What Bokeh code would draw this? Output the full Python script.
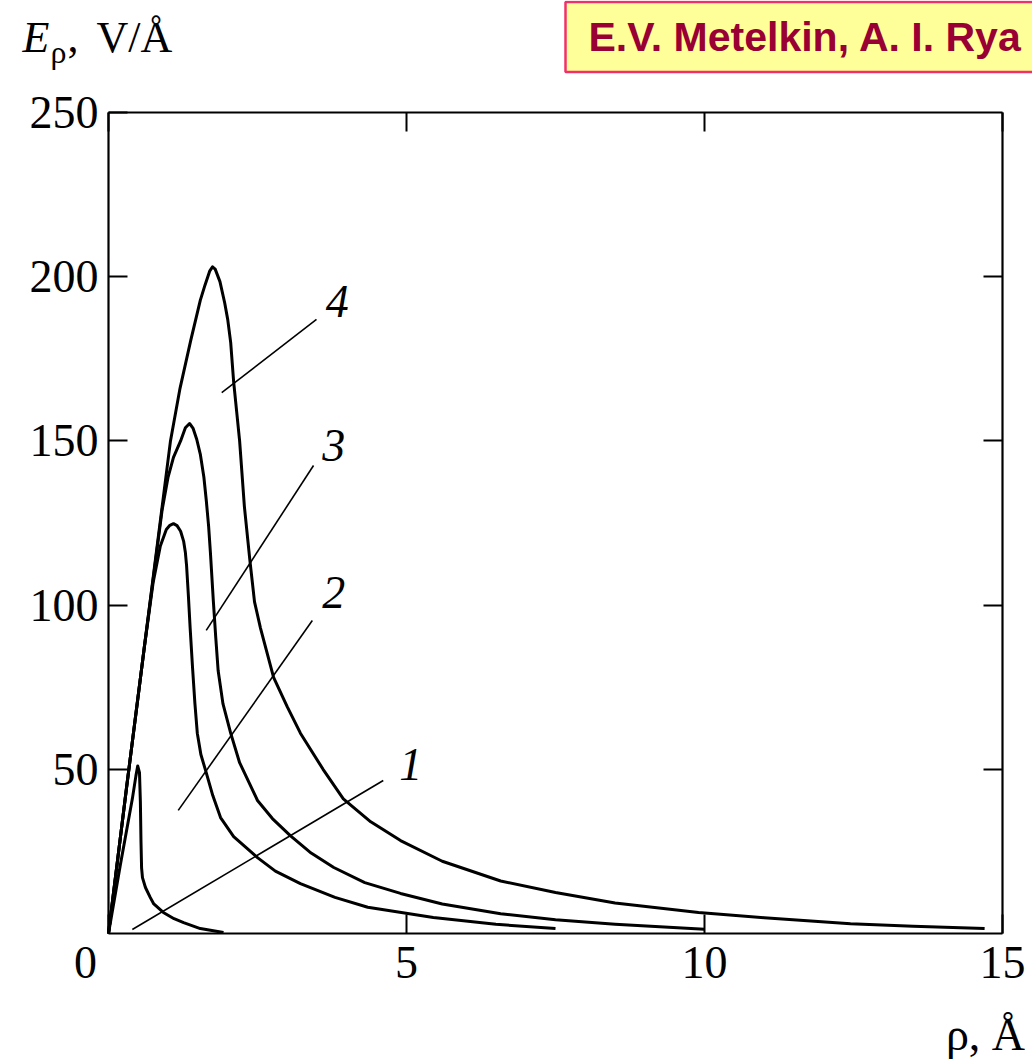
from bokeh.plotting import figure
from bokeh.models import Range1d, LinearAxis, FixedTicker, Label
from bokeh.embed import file_html
from bokeh.resources import INLINE
from bokeh.core.properties import value

# ---- data ----
rho_1 = [0, 0.2, 0.4, 0.46, 0.49, 0.52, 0.535, 0.545, 0.555, 0.57, 0.62, 0.7, 0.76, 0.92, 1.1, 1.26, 1.54, 1.93]
E_1 = [0, 21, 41, 48, 51, 49, 40, 28, 20, 17, 14, 11, 9, 6.4, 4.5, 3.3, 1.5, 0.3]

rho_2 = [0, 0.3, 0.6, 0.75, 0.87, 0.97, 1.03, 1.09, 1.15, 1.21, 1.26, 1.29, 1.31, 1.34, 1.37, 1.41, 1.45,
         1.49, 1.55, 1.63, 1.75, 1.88, 2.1, 2.5, 2.8, 3.22, 3.8, 4.35, 5.45, 6.5, 7.5]
E_2 = [0, 44, 87, 107, 118, 123, 124.3, 124.8, 124.2, 122.5, 119.5, 116, 112, 103, 93, 81, 70,
       61, 54.5, 49.6, 42, 35.3, 29.5, 23.1, 19, 15.2, 11, 8, 4.9, 2.8, 1.5]

rho_3 = [0, 0.3, 0.6, 0.9, 1.0, 1.09, 1.21, 1.29, 1.36, 1.42, 1.48, 1.54, 1.6, 1.64, 1.68, 1.71, 1.76, 1.80,
         1.84, 1.92, 2.05, 2.2, 2.5, 2.75, 3.05, 3.4, 3.78, 4.3, 4.9, 5.6, 6.58, 7.5, 8.5, 10.0]
E_3 = [0, 44, 87, 129, 139, 145, 150, 154, 155.3, 153.8, 150.5, 146, 139, 132, 124, 116, 101, 90,
       80, 70, 61, 52, 40.5, 35, 29.8, 24.5, 20.1, 15.5, 12.2, 9, 6, 4.2, 2.8, 1.3]

rho_4 = [0, 0.3, 0.6, 0.9, 1.04, 1.2, 1.38, 1.54, 1.62, 1.7, 1.745, 1.79, 1.87, 1.95, 2.0, 2.05, 2.10,
         2.15, 2.20, 2.28, 2.37, 2.45, 2.55, 2.77, 3.0, 3.22, 3.6, 3.94, 4.4, 4.9, 5.6, 6.58, 7.5, 8.5,
         9.9, 11.0, 12.45, 13.5, 14.7]
E_4 = [0, 44, 87, 130, 150, 166, 180.6, 192.8, 197.5, 201.8, 203, 202.3, 198.5, 192, 187, 180, 168,
       159, 150, 130, 114, 101, 93, 78, 69, 61, 50, 41, 34, 28.3, 22, 16, 12.5, 9.3,
       6.4, 4.8, 3, 2.2, 1.5]

curves = [(rho_1, E_1), (rho_2, E_2), (rho_3, E_3), (rho_4, E_4)]

x_ticks = [0, 5, 10, 15]
x_tick_labels = ["0\u00a0\u00a0\u00a0\u00a0", "5", "10", "15"]
y_ticks = [50, 100, 150, 200, 250]
y_ticks_right = [50, 100, 150, 200]

curve_names = ["1", "2", "3", "4"]
name_x = [5.07, 3.78, 3.78, 3.84]
name_y = [51.5, 103.8, 148.6, 192.4]
leader_x0 = [0.40, 1.17, 1.64, 1.90]
leader_y0 = [1.2, 37.5, 92.3, 164.7]
leader_x1 = [4.61, 3.42, 3.44, 3.49]
leader_y1 = [46.6, 95.3, 142.5, 187.0]

y_title_parts = ["E", "ρ", ",", "V/Å"]
x_title = "ρ, Å"
banner = "E.V. Metelkin, A. I. Rya"

SERIF = "Liberation Serif"

# ---- layout: the frame fills the canvas; the data box sits at px 108..1002 x 112..933 ----
W, H = 1032, 1059
BOX_L, BOX_R, BOX_T, BOX_B = 108, 1002, 112, 933
X_MAX, Y_MAX = 15, 250
SX = (BOX_R - BOX_L) / X_MAX
SY = (BOX_B - BOX_T) / Y_MAX


def dx(px):
    return (px - BOX_L) / SX


def dy(py):
    return (BOX_B - py) / SY


p = figure(width=W, height=H, x_range=Range1d(dx(0), dx(W)), y_range=Range1d(dy(H), dy(0)),
           output_backend="svg", toolbar_location=None,
           x_axis_location=None, y_axis_location=None,
           min_border=0, min_border_left=0, min_border_right=0, min_border_top=0, min_border_bottom=0)
p.grid.visible = False
p.outline_line_color = None
p.background_fill_color = "white"
p.border_fill_color = "white"


def style_axis(ax, show_labels=True):
    ax.major_tick_in = 19
    ax.major_tick_out = 0
    ax.minor_tick_in = 0
    ax.minor_tick_out = 0
    ax.major_tick_line_width = 2
    ax.major_tick_line_color = "black"
    ax.axis_line_width = 2.2
    ax.axis_line_color = "black"
    ax.major_label_text_font = SERIF
    ax.major_label_text_color = "black"
    if show_labels:
        ax.major_label_text_font_size = "46px"
    else:
        ax.major_label_text_font_size = "0px"
        ax.major_label_standoff = 0


bottom = LinearAxis(ticker=FixedTicker(ticks=x_ticks), fixed_location=0, bounds=(0, X_MAX),
                    major_label_overrides={t: s for t, s in zip(x_ticks, x_tick_labels)})
style_axis(bottom)
bottom.major_label_standoff = 3
p.add_layout(bottom, "below")

left = LinearAxis(ticker=FixedTicker(ticks=y_ticks), fixed_location=0, bounds=(0, Y_MAX))
style_axis(left)
left.major_label_standoff = 10
p.add_layout(left, "left")

top = LinearAxis(ticker=FixedTicker(ticks=x_ticks), fixed_location=Y_MAX, bounds=(0, X_MAX),
                 major_label_overrides={t: "" for t in x_ticks})
style_axis(top, show_labels=False)
p.add_layout(top, "above")

right = LinearAxis(ticker=FixedTicker(ticks=y_ticks_right), fixed_location=X_MAX, bounds=(0, Y_MAX),
                   major_label_overrides={t: "" for t in y_ticks_right})
style_axis(right, show_labels=False)
p.add_layout(right, "right")

for rx, ey in curves:
    p.line(rx, ey, line_width=3, line_color="black", line_join="round")

p.segment(x0=leader_x0, y0=leader_y0, x1=leader_x1, y1=leader_y1, line_width=1.6, line_color="black")
p.text(x=name_x, y=name_y, text=curve_names, text_font=value(SERIF), text_font_style="italic",
       text_font_size="46px", text_align="center", text_baseline="middle", text_color="black")


def add_label(px, py_center, text, size, style="normal", align="left", font=SERIF, **kw):
    p.add_layout(Label(x=dx(px), y=dy(py_center), text=text, text_font=font, text_font_style=style,
                       text_font_size=size, text_color=kw.pop("text_color", "black"),
                       text_align=align, text_baseline="middle", **kw))


# y-axis title  E_rho, V/Å  (top left)
add_label(22, 37, y_title_parts[0], "44px", style="italic")
add_label(50, 51, y_title_parts[1], "32px")
add_label(67, 37, y_title_parts[2], "44px")
add_label(96, 37, y_title_parts[3], "44px")

# x-axis title  ρ, Å  (bottom right)
add_label(985, 1034, x_title, "46px", align="center")

# author banner (box anchored at its left edge; padding = left, right, top, bottom);
# the box runs on past the right edge of the page, as in the original
add_label(565, 36.5, banner, "41px", style="bold", font="Liberation Sans", text_color="#990033",
          background_fill_color="#FFFF99", border_line_color="#F0306A", border_line_width=2.5,
          padding=(23, 80, 12, 12))

open("out.html", "w").write(file_html(p, INLINE))
